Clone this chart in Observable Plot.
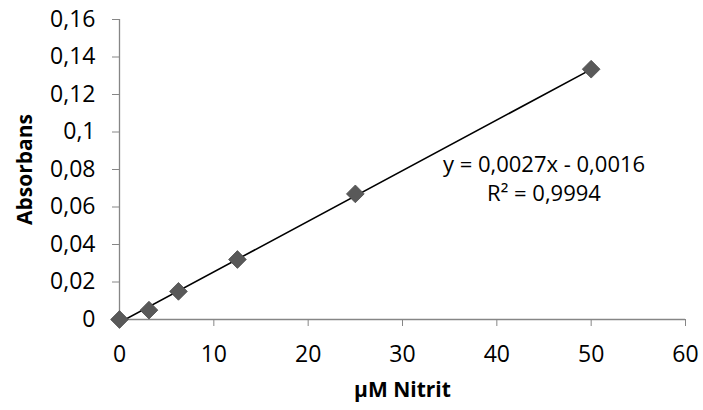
<!DOCTYPE html>
<html>
<head>
<meta charset="utf-8">
<script src="https://cdn.jsdelivr.net/npm/d3@7"></script>
<script src="https://cdn.jsdelivr.net/npm/@observablehq/plot@0.6"></script>
<style>
  body { margin: 0; background: #fff; }
</style>
</head>
<body>
<div id="chart"></div>
<script>
// Data
const concentrations = [0, 3.125, 6.25, 12.5, 25, 50];
const absorbance = [0.000, 0.005, 0.015, 0.032, 0.067, 0.1335];
const trendX = [0, 50];
const trendY = [-0.0016, 0.1334];
const xTicks = [0, 10, 20, 30, 40, 50, 60];
const yTicks = [0, 0.02, 0.04, 0.06, 0.08, 0.1, 0.12, 0.14, 0.16];
const equationLines = ["y = 0,0027x - 0,0016", "R² = 0,9994"];

const points = concentrations.map((x, i) => ({x, y: absorbance[i]}));
const trend = trendX.map((x, i) => ({x, y: trendY[i]}));
const fmt = d => String(+d.toFixed(2)).replace(".", ",");
const axisColor = "#868686";

const chart = Plot.plot({
  width: 703,
  height: 410,
  marginLeft: 119,
  marginRight: 18,
  marginTop: 19,
  marginBottom: 91,
  style: {fontFamily: "'Open Sans', sans-serif", fontSize: "23px", color: "#000", background: "#fff"},
  x: {domain: [0, 60], ticks: xTicks},
  y: {domain: [0, 0.16], ticks: yTicks},
  marks: [
    Plot.ruleY([0], {stroke: axisColor, strokeWidth: 1.3}),
    Plot.ruleX([0], {stroke: axisColor, strokeWidth: 1.3}),
    Plot.axisX({ticks: xTicks, tickSize: 7, tickPadding: 19, stroke: axisColor, fill: "#000",
      tickFormat: d => String(d), label: "µM Nitrit", labelAnchor: "center", labelArrow: "none", labelOffset: 77}),
    Plot.axisY({ticks: yTicks, tickSize: 7, tickPadding: 17, stroke: axisColor, fill: "#000",
      tickFormat: fmt, label: "Absorbans", labelAnchor: "center", labelArrow: "none", labelOffset: 102}),
    Plot.line(trend, {x: "x", y: "y", stroke: "#000", strokeWidth: 1.6, clip: true}),
    Plot.dot(points, {x: "x", y: "y", symbol: "diamond2", r: 8, fill: "#595959", stroke: "#4d4d4d", strokeWidth: 0.8}),
    Plot.text([equationLines[0]], {x: 45, y: 0.0748, dy: -14.5, text: d => d, fill: "#000", fontSize: 22}),
    Plot.text([equationLines[1]], {x: 45, y: 0.0748, dy: 14.5, text: d => d, fill: "#000", fontSize: 22})
  ]
});

// make axis titles bold
chart.querySelectorAll("[aria-label='x-axis label'] text, [aria-label='y-axis label'] text").forEach(t => {
  t.setAttribute("font-weight", "bold");
  t.setAttribute("font-size", "21");
});
document.getElementById("chart").appendChild(chart);
</script>
</body>
</html>
